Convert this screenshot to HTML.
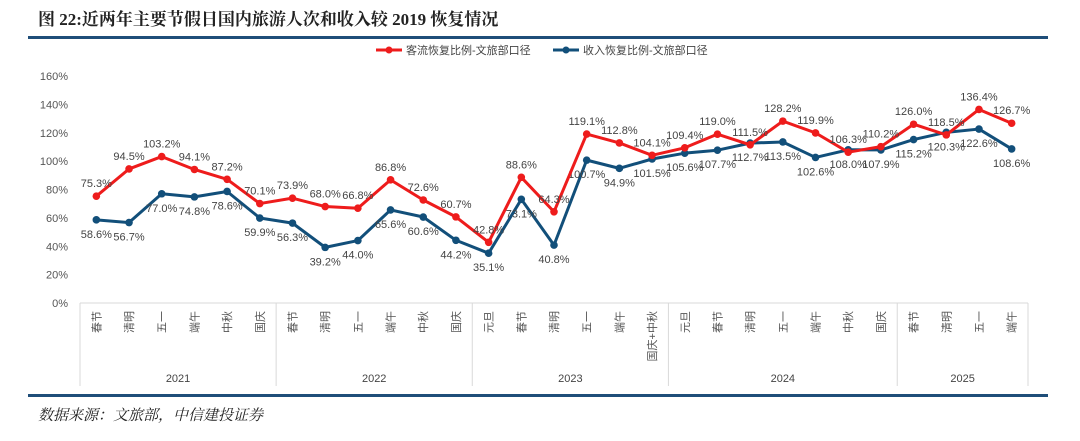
<!DOCTYPE html>
<html><head><meta charset="utf-8"><style>
body{margin:0;background:#fff;width:1080px;height:436px;overflow:hidden;font-family:"Liberation Sans","Noto Sans CJK SC",sans-serif}
</style></head><body>
<svg id="c" width="1080" height="436" xmlns="http://www.w3.org/2000/svg">
<text x="38" y="25" font-size="17" font-weight="bold" fill="#222" font-family="Liberation Serif,Noto Serif CJK SC,serif">图 22:近两年主要节假日国内旅游人次和收入较 2019 恢复情况</text>
<rect x="28" y="36" width="1020" height="3" fill="#1f4e79"/>
<rect x="28" y="394" width="1020" height="3" fill="#1f4e79"/>
<text x="38" y="420" font-size="15" font-style="italic" fill="#222" font-family="Liberation Serif,Noto Serif CJK SC,serif">数据来源：文旅部，中信建投证券</text>
<g>
<line x1="376" y1="50" x2="402" y2="50" stroke="#ee1c1c" stroke-width="3"/><circle cx="389" cy="50" r="3.5" fill="#ee1c1c"/>
<text x="406" y="54" font-size="11" fill="#444">客流恢复比例-文旅部口径</text>
<line x1="553" y1="50" x2="579" y2="50" stroke="#124f7a" stroke-width="3"/><circle cx="566" cy="50" r="3.5" fill="#124f7a"/>
<text x="583" y="54" font-size="11" fill="#444">收入恢复比例-文旅部口径</text>
</g>
<g id="g"></g>
</svg>
<script>
const categories=["春节","清明","五一","端午","中秋","国庆","春节","清明","五一","端午","中秋","国庆","元旦","春节","清明","五一","端午","国庆+中秋","元旦","春节","清明","五一","端午","中秋","国庆","春节","清明","五一","端午"];
const years=["2021","2022","2023","2024","2025"];
const yearCounts=[6,6,6,7,4];
const visitors=[75.3,94.5,103.2,94.1,87.2,70.1,73.9,68.0,66.8,86.8,72.6,60.7,42.8,88.6,64.3,119.1,112.8,104.1,109.4,119.0,111.5,128.2,119.9,106.3,110.2,126.0,118.5,136.4,126.7];
const revenue=[58.6,56.7,77.0,74.8,78.6,59.9,56.3,39.2,44.0,65.6,60.6,44.2,35.1,73.1,40.8,100.7,94.9,101.5,105.6,107.7,112.7,113.5,102.6,108.0,107.9,115.2,120.3,122.6,108.6];
const yTicks=[0,20,40,60,80,100,120,140,160];
const NS="http://www.w3.org/2000/svg",g=document.getElementById('g');
const L=80,R=1028,T=76,B=303,bw=(R-L)/categories.length;
const x=i=>L+bw*(i+0.5), y=v=>B-(v-0)/(160)*(B-T);
function mk(t,a,p){const e=document.createElementNS(NS,t);for(const k in a)e.setAttribute(k,a[k]);(p||g).appendChild(e);return e;}
yTicks.forEach(v=>{const t=mk('text',{x:68,y:y(v)+4,'font-size':11,fill:'#555','text-anchor':'end'});t.textContent=v+'%';

});
mk('line',{x1:L,y1:B,x2:R,y2:B,stroke:'#d9d9d9'});
let s=0;mk('line',{x1:L,y1:B,x2:L,y2:386,stroke:'#d9d9d9'});
yearCounts.forEach((n,k)=>{const x0=L+s*bw,x1=L+(s+n)*bw;mk('line',{x1:x1,y1:B,x2:x1,y2:386,stroke:'#d9d9d9'});
const t=mk('text',{x:(x0+x1)/2,y:382,'font-size':11,fill:'#444','text-anchor':'middle'});t.textContent=years[k];

s+=n;});
categories.forEach((c,i)=>{const t=mk('text',{x:0,y:0,'font-size':11,fill:'#555','text-anchor':'end',transform:`translate(${x(i)+4},311) rotate(-90)`});t.textContent=c;

});
function series(d,col,name,above){
mk('polyline',{points:d.map((v,i)=>x(i)+','+y(v)).join(' '),fill:'none',stroke:col,'stroke-width':3,'stroke-linejoin':'round'});
d.forEach((v,i)=>{const c=mk('circle',{cx:x(i),cy:y(v),r:3.8,fill:col});


const t=mk('text',{x:x(i),y:y(v)+(above?-9:18),'font-size':11,fill:'#444','text-anchor':'middle'});t.textContent=v.toFixed(1)+'%';

});}
series(revenue,'#124f7a','revenue',false);
series(visitors,'#ee1c1c','visitors',true);
</script>
</body></html>
